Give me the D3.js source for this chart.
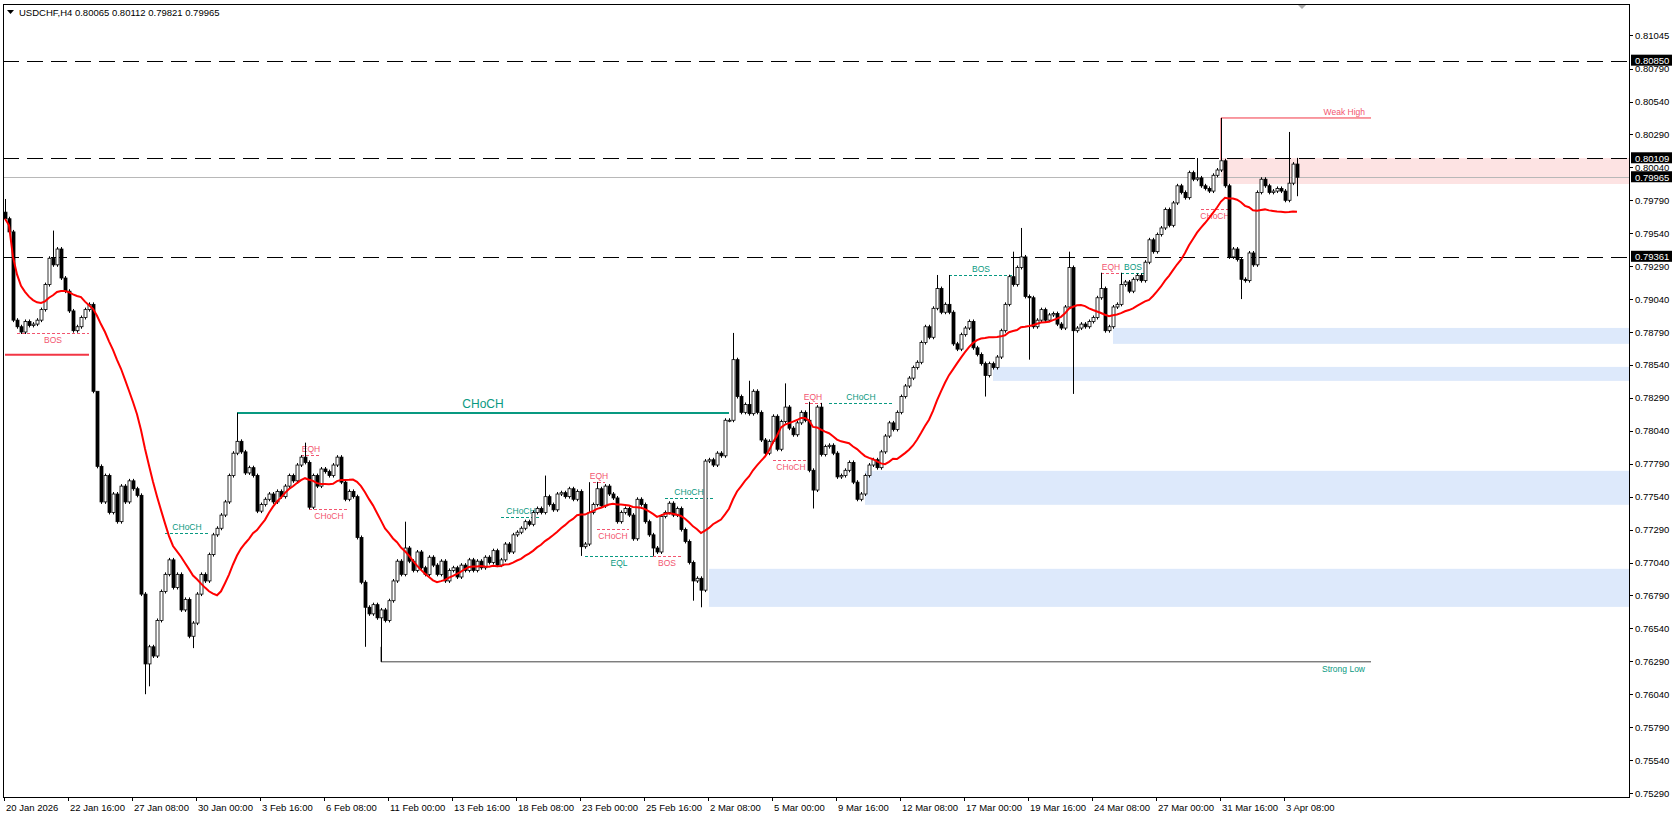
<!DOCTYPE html>
<html>
<head>
<meta charset="utf-8">
<script src="https://cdn.jsdelivr.net/npm/d3@7"></script>
<style>
  body { margin: 0; background: #fff; }
  svg { display: block; font-family: "Liberation Sans", Arial, sans-serif; }
</style>
</head>
<body>
<svg id="chart" width="1676" height="818"></svg>
<script>
// closes in 1e-5 units, H4 bars from 20 Jan 2026 00:00
const closes = [
  79650,79550,78880,78830,78790,78870,78840,78850,78880,78960,79150,79350,79300,79420,79200,79100,
  78950,78800,78830,78900,78960,79000,78340,77770,77500,77700,77420,77560,77350,77620,77500,77660,
  77600,77550,76800,76270,76400,76330,76600,76820,76950,77060,76850,76950,76680,76760,76480,76580,
  76800,76950,76900,77100,77250,77300,77400,77500,77700,77870,77960,77880,77720,77760,77700,77430,
  77480,77520,77560,77500,77580,77540,77620,77700,77660,77780,77840,77800,77460,77700,77620,77750,
  77730,77700,77780,77840,77650,77520,77580,77540,77230,76890,76700,76650,76720,76620,76680,76600,
  76750,76900,77050,76950,77150,77050,76980,77120,77000,76950,77080,77020,76950,77050,76900,76980,
  77000,76930,77020,76980,77060,76980,77050,77000,77080,77040,77130,77020,77060,77180,77120,77250,
  77270,77300,77350,77330,77420,77450,77420,77540,77480,77440,77560,77570,77540,77600,77520,77580,
  77160,77180,77420,77480,77600,77470,77620,77560,77530,77350,77420,77450,77400,77220,77520,77480,
  77350,77250,77150,77120,77390,77420,77490,77400,77450,77290,77200,77040,76900,76920,76830,77810,
  77820,77780,77870,77850,78120,78120,78580,78300,78180,78240,78170,78340,78180,77970,77870,77960,
  78150,77900,78110,78220,78060,78010,78100,78180,78120,77740,77590,78220,77860,77920,77930,77870,
  77690,77700,77740,77800,77650,77520,77560,77700,77780,77820,77760,77880,78000,78100,78050,78180,
  78300,78380,78440,78520,78560,78710,78830,78750,78970,79120,78940,79000,78940,78700,78660,78770,
  78820,78870,78670,78620,78550,78460,78550,78520,78600,78800,79000,79210,79150,79280,79360,79060,
  79050,78830,78880,78960,78880,78920,78930,78850,78820,78980,79280,78800,78820,78850,78830,78870,
  78900,79050,79120,78800,78830,78980,79000,79150,79170,79100,79190,79220,79180,79320,79490,79400,
  79530,79580,79720,79600,79770,79900,79850,79810,80000,79950,79960,79900,79880,79860,79980,80020,
  80090,79900,79360,79420,79340,79190,79180,79390,79300,79850,79950,79900,79850,79860,79880,79860,
  79790,79920,80065,79965
];
const firstOpen = 79700;
// wicks: [bar, price]
const tallHighs = [[0,79800],[12,79560],[23,78000],[58,78176],[75,77950],[100,77350],[135,77700],
  [146,77650],[148,77652],[182,78783],[186,78420],[195,78400],[201,78260],[204,78252],[233,79223],
  [236,79223],[252,79400],[254,79580],[266,79400],[274,79240],[279,79240],[298,80111],[304,80415],
  [321,80309],[323,80112]];
const deepLows = [[35,76040],[36,76100],[47,76390],[90,76400],[94,76286],[144,77090],[162,77090],
  [172,76750],[174,76700],[202,77450],[245,78300],[256,78580],[267,78320],[309,79040],[323,79821]];
const wickPad = 15;

const timeLabels = ["20 Jan 2026","22 Jan 16:00","27 Jan 08:00","30 Jan 00:00","3 Feb 16:00","6 Feb 08:00",
  "11 Feb 00:00","13 Feb 16:00","18 Feb 08:00","23 Feb 00:00","25 Feb 16:00","2 Mar 08:00","5 Mar 00:00",
  "9 Mar 16:00","12 Mar 08:00","17 Mar 00:00","19 Mar 16:00","24 Mar 08:00","27 Mar 00:00","31 Mar 16:00","3 Apr 08:00"];
const priceTicks = ["0.81045","0.80790","0.80540","0.80290","0.80040","0.79790","0.79540","0.79290","0.79040",
  "0.78790","0.78540","0.78290","0.78040","0.77790","0.77540","0.77290","0.77040","0.76790","0.76540",
  "0.76290","0.76040","0.75790","0.75540","0.75290"];
const levels = [0.80850, 0.80109, 0.79361];
const lastPrice = 0.79965;

// zones [fromBar, top, bottom, kind]
const zones = [[304,0.80111,0.79914,"supply"],[277,0.78821,0.78700,"demand"],[247,0.78525,0.78419,"demand"],
  [215,0.77736,0.77478,"demand"],[176,0.76992,0.76703,"demand"]];
// structure marks [from, to, price, text, colour, above]
const marks = [
  [3,21,0.78779,"BOS","red",false],[40,51,0.77262,"CHoCH","green",true],[74,79,0.77857,"EQH","red",true],
  [76,86,0.77447,"CHoCH","red",false],[124,134,0.77387,"CHoCH","green",true],[147,150,0.77652,"EQH","red",true],
  [148,156,0.77296,"CHoCH","red",false],[145,162,0.77090,"EQL","green",false],[162,169,0.77090,"BOS","red",false],
  [165,177,0.77531,"CHoCH","green",true],[200,204,0.78252,"EQH","red",true],[206,222,0.78252,"CHoCH","green",true],
  [192,201,0.77819,"CHoCH","red",false],[236,252,0.79223,"BOS","green",true],[274,279,0.79240,"EQH","red",true],
  [279,285,0.79240,"BOS","green",true],[299,306,0.79724,"CHoCH","red",false]
];

const W = 1676, H = 818, plotL = 3, plotR = 1629, plotT = 4, plotB = 797;
const svg = d3.select("#chart");
const x = d3.scaleLinear().domain([0, 323]).range([5, 5 + 323 * 4]);
const y = d3.scaleLinear().domain([0.75290, 0.81045]).range([793, 35]);
const P = v => v / 100000;

const bars = closes.map((c, i) => {
  const o = i === 0 ? firstOpen : closes[i - 1];
  let hi = Math.max(o, c) + wickPad, lo = Math.min(o, c) - wickPad;
  tallHighs.forEach(t => { if (t[0] === i) hi = t[1]; });
  deepLows.forEach(t => { if (t[0] === i) lo = t[1]; });
  return { i, o: P(o), c: P(c), h: P(hi), l: P(lo) };
});
bars[323].o = 0.80065;

svg.append("rect").attr("width", W).attr("height", H).attr("fill", "#fff");

// zones
svg.selectAll(".zone").data(zones).enter().append("rect")
  .attr("x", d => x(d[0])).attr("width", d => plotR - x(d[0]))
  .attr("y", d => y(d[1])).attr("height", d => y(d[2]) - y(d[1]))
  .attr("fill", d => d[3] === "supply" ? "#fde3e3" : "#dde9fb");

// levels
svg.selectAll(".lvl").data(levels).enter().append("line")
  .attr("x1", plotL).attr("x2", plotR).attr("y1", d => Math.round(y(d)) + 0.5).attr("y2", d => Math.round(y(d)) + 0.5)
  .attr("stroke", "#000").attr("stroke-dasharray", "16,8");
svg.append("line").attr("x1", plotL).attr("x2", plotR)
  .attr("y1", Math.round(y(lastPrice)) + 0.5).attr("y2", Math.round(y(lastPrice)) + 0.5).attr("stroke", "#b8b8b8");

const RED = "#f23645", PINK = "#f2556f", GREEN = "#089981";

svg.append("line").attr("x1", x(0)).attr("x2", x(21)).attr("y1", y(0.78617)).attr("y2", y(0.78617))
  .attr("stroke", RED).attr("stroke-width", 2);
// big CHoCH
svg.append("line").attr("x1", x(58)).attr("x2", x(181)).attr("y1", y(0.78176)).attr("y2", y(0.78176))
  .attr("stroke", GREEN).attr("stroke-width", 2);
svg.append("text").attr("x", (x(58) + x(181)) / 2).attr("y", y(0.78176) - 5).attr("text-anchor", "middle")
  .attr("font-size", 12).attr("fill", GREEN).text("CHoCH");
// weak high / strong low
const wh = 0.80415, sl = 0.76286;
svg.append("path").attr("d", `M${x(304)},${y(0.80096)}V${y(wh)}H1371`).attr("fill", "none").attr("stroke", RED);
svg.append("text").attr("x", 1365).attr("y", y(wh) - 3).attr("text-anchor", "end").attr("font-size", 8.5)
  .attr("fill", PINK).text("Weak High");
svg.append("path").attr("d", `M${x(94)},${y(0.7640)}V${y(sl)}H1371`).attr("fill", "none").attr("stroke", "#444");
svg.append("text").attr("x", 1365).attr("y", y(sl) + 10).attr("text-anchor", "end").attr("font-size", 8.5)
  .attr("fill", GREEN).text("Strong Low");

const mg = svg.selectAll(".mark").data(marks).enter().append("g");
mg.append("line").attr("x1", d => x(d[0])).attr("x2", d => x(d[1]))
  .attr("y1", d => Math.round(y(d[2])) + 0.5).attr("y2", d => Math.round(y(d[2])) + 0.5)
  .attr("stroke", d => d[4] === "red" ? PINK : GREEN).attr("stroke-dasharray", "3,2");
mg.append("text").attr("x", d => (x(d[0]) + x(d[1])) / 2).attr("y", d => y(d[2]) + (d[5] ? -3 : 10))
  .attr("text-anchor", "middle").attr("font-size", 8.5)
  .attr("fill", d => d[4] === "red" ? PINK : GREEN).text(d => d[3]);

// candles
const cg = svg.append("g");
cg.selectAll(".wick").data(bars).enter().append("line")
  .attr("x1", d => x(d.i) + 0.5).attr("x2", d => x(d.i) + 0.5)
  .attr("y1", d => y(d.h)).attr("y2", d => y(d.l)).attr("stroke", "#000");
cg.selectAll(".body").data(bars).enter().append("rect")
  .attr("x", d => x(d.i) - 1).attr("width", 3)
  .attr("y", d => y(Math.max(d.o, d.c))).attr("height", d => Math.max(1, Math.abs(y(d.o) - y(d.c))))
  .attr("fill", d => d.c >= d.o ? "#fff" : "#000").attr("stroke", "#000").attr("stroke-width", 0.8);

// moving average (SMA 20)
const N = 20;
const ma = closes.map((c, i) => d3.mean(closes.slice(Math.max(0, i - N + 1), i + 1)) / 100000);
svg.append("path").datum(ma).attr("fill", "none").attr("stroke", "#ff0000").attr("stroke-width", 2)
  .attr("d", d3.line().x((d, i) => x(i)).y(d => y(d)));

// frame
svg.append("rect").attr("x", plotL + 0.5).attr("y", plotT + 0.5).attr("width", plotR - plotL).attr("height", plotB - plotT)
  .attr("fill", "none").attr("stroke", "#000");
svg.append("path").attr("d", "M1298,5h8l-4,4z").attr("fill", "#aaa");

// price axis
const pa = svg.append("g").attr("font-size", 9.5).attr("fill", "#000");
priceTicks.forEach(t => {
  const p = +t;
  pa.append("line").attr("x1", plotR).attr("x2", plotR + 4).attr("y1", Math.round(y(p)) + 0.5).attr("y2", Math.round(y(p)) + 0.5).attr("stroke", "#000");
  pa.append("text").attr("x", plotR + 6).attr("y", y(p) + 3.5).text(t);
});
levels.concat([lastPrice]).forEach(p => {
  pa.append("rect").attr("x", plotR + 2).attr("y", y(p) - 6).attr("width", 41).attr("height", 11).attr("fill", "#000");
  pa.append("text").attr("x", plotR + 6).attr("y", y(p) + 3.5).attr("fill", "#fff").text(p.toFixed(5));
});

// time axis
const ta = svg.append("g").attr("font-size", 9.5);
timeLabels.forEach((t, j) => {
  const tx = x(j * 16) - 1;
  ta.append("line").attr("x1", tx + 0.5).attr("x2", tx + 0.5).attr("y1", plotB).attr("y2", plotB + 4).attr("stroke", "#000");
  ta.append("text").attr("x", tx + 2).attr("y", plotB + 14).text(t);
});

// header
svg.append("path").attr("d", "M7,10h7l-3.5,4z").attr("fill", "#000");
svg.append("text").attr("x", 19).attr("y", 16).attr("font-size", 9.5).text("USDCHF,H4  0.80065 0.80112 0.79821 0.79965");
</script>
</body>
</html>
